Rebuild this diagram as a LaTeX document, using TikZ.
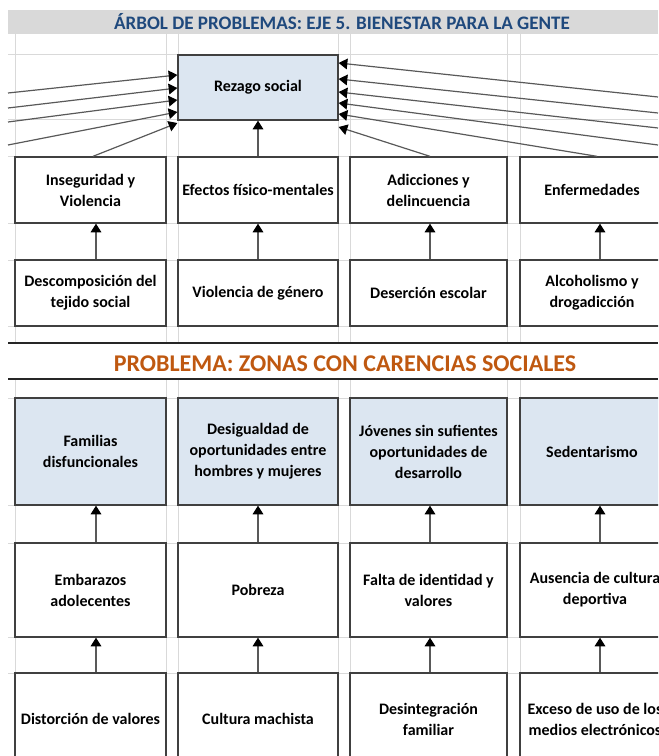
\documentclass[tikz,border=0pt]{standalone}
\usepackage{fontspec}
\setmainfont{Carlito}
\usetikzlibrary{arrows.meta}
\definecolor{cellblue}{HTML}{DCE6F1}
\definecolor{titleblue}{HTML}{1F497D}
\definecolor{titleorange}{HTML}{BF5810}
\definecolor{gridgray}{HTML}{D9D9D9}
\tikzset{
  cell/.style 2 args={draw=black!75, line width=1pt, fill=white, align=center, inner sep=0pt,
    minimum width=#1*0.75pt, minimum height=#2*0.75pt,
    font=\bfseries\fontsize{12}{15.75}\selectfont},
  bluecell/.style 2 args={cell={#1}{#2}, fill=cellblue},
  arr/.style={draw=black!65, line width=0.9pt, -{Triangle[length=6.5pt,width=8pt,color=black]}},
  gridline/.style={gridgray, line width=0.75pt},
  thickrule/.style={black!85, line width=1.5pt}
}

\begin{document}
\begin{tikzpicture}[x=0.75pt,y=-0.75pt]
  \path[use as bounding box] (0,0) rectangle (658,756);
  \clip (0,0) rectangle (658,756);

  % hoja de calculo
  \foreach \y in {55,120,157,223,260,326,398,505,543,637,673}
    \draw[gridline] (8,\y) -- (658,\y);
  \foreach \x in {15,166,178,338,350,507,520} {
    \draw[gridline] (\x,34) -- (\x,343);
    \draw[gridline] (\x,379) -- (\x,756);
  }
  \fill[gridgray] (8,10) rectangle (658,34);
  \node[anchor=base, font=\bfseries\fontsize{14.3}{17}\selectfont, text=titleblue] (titulo) at (342,29.5)
    {ÁRBOL DE PROBLEMAS: EJE 5. BIENESTAR PARA LA GENTE};
  \draw[thickrule] (8,343) -- (658,343);
  \draw[thickrule] (8,379) -- (658,379);
  \node[anchor=base, font=\bfseries\fontsize{18}{22}\selectfont, text=titleorange] (problema) at (345,371)
    {PROBLEMA: ZONAS CON CARENCIAS SOCIALES};

  % arbol de efectos
  \node[bluecell={160}{65}] (rez) at (258,87.5) {Rezago social};
  \node[cell={151}{66}] (e1) at (90.5,190) {Inseguridad y\\Violencia};
  \node[cell={160}{66}] (e2) at (258,190) {Efectos físico-mentales};
  \node[cell={157}{66}] (e3) at (428.5,190) {Adicciones y\\delincuencia};
  \node[cell={144}{66}] (e4) at (592,190) {Enfermedades};
  \node[cell={151}{66}] (c1) at (90.5,293) {Descomposición del\\tejido social};
  \node[cell={160}{66}] (c2) at (258,293) {Violencia de género};
  \node[cell={157}{66}] (c3) at (428.5,293) {Deserción escolar};
  \node[cell={144}{66}] (c4) at (592,293) {Alcoholismo y\\drogadicción};

  % arbol del problema
  \node[bluecell={151}{107}] (p1) at (90.5,451.5) {Familias\\disfuncionales};
  \node[bluecell={160}{107}] (p2) at (258,451.5) {Desigualdad de\\oportunidades entre\\hombres y mujeres};
  \node[bluecell={157}{107}] (p3) at (428.5,451.5) {Jóvenes sin sufientes\\oportunidades de\\desarrollo};
  \node[bluecell={144}{107}] (p4) at (592,451.5) {Sedentarismo};
  \node[cell={151}{94}] (s1) at (90.5,590) {Embarazos\\adolecentes};
  \node[cell={160}{94}] (s2) at (258,590) {Pobreza};
  \node[cell={157}{94}] (s3) at (428.5,590) {Falta de identidad y\\valores};
  \node[cell={150}{94}] (s4) at (595,590) {Ausencia de cultura\\deportiva};
  \node[cell={151}{92}] (r1) at (90.5,719) {Distorción de valores};
  \node[cell={160}{92}] (r2) at (258,719) {Cultura machista};
  \node[cell={157}{92}] (r3) at (428.5,719) {Desintegración\\familiar};
  \node[cell={150}{92}] (r4) at (595,719) {Exceso de uso de los\\medios electrónicos};

  % flechas
  \foreach \i/\x in {1/96,2/258,3/430,4/600} {
    \draw[arr] (c\i.north -| \x,0) -- (e\i.south -| \x,0);
    \draw[arr] (s\i.north -| \x,0) -- (p\i.south -| \x,0);
    \draw[arr] (r\i.north -| \x,0) -- (s\i.south -| \x,0);
  }
  \draw[arr] (e2.north -| 258,0) -- (rez.south -| 258,0);
  \foreach \i/\a/\b in {1/93/75,2/108/88,3/122/100,4/145/112} {
    \coordinate (w\i) at (8,\a);
    \draw[arr] (w\i) -- (rez.west |- 0,\b);
  }
  \foreach \i/\a/\b in {1/97/63,2/113/79,3/128/92,4/145/103} {
    \coordinate (o\i) at (658,\a);
    \draw[arr] (o\i) -- (rez.east |- 0,\b);
  }
  \draw[arr] (e1.north -| 93,0) -- (rez.west |- 0,123);
  \draw[arr] (e4.north -| 597,0) -- (rez.east |- 0,114);
  \draw[arr] (e3.north -| 430,0) -- (rez.east |- 0,127);
\end{tikzpicture}
\end{document}
